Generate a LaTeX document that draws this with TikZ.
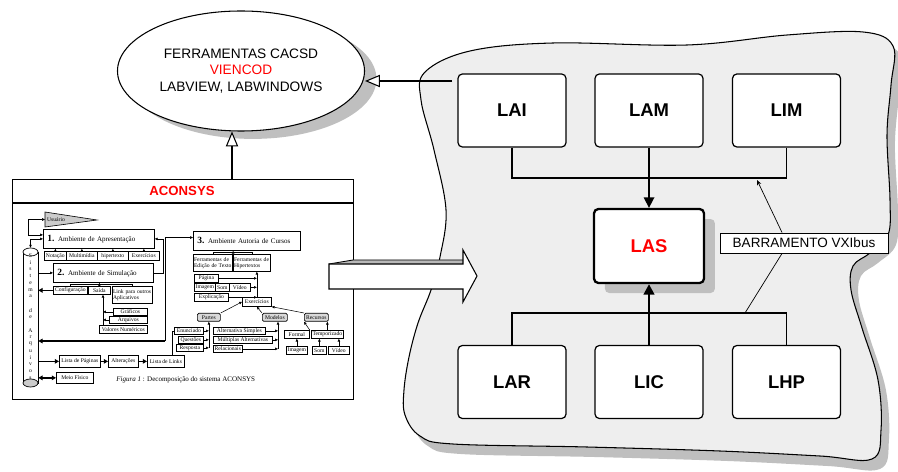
\documentclass[tikz,border=0pt]{standalone}
\usepackage{fontspec}
\setmainfont{Liberation Sans}
\newfontfamily\timesf{Liberation Serif}
\usetikzlibrary{shapes.geometric, arrows.meta, positioning, shadows}

\newlength{\pix}
\setlength{\pix}{0.02cm}

\tikzset{
  lbox/.style={draw, rounded corners=2.5pt, fill=white, line width=0.7pt,
    minimum width=108\pix, minimum height=73\pix,
    font=\fontsize{10.5}{12}\selectfont\bfseries},
  grayshadow/.style={drop shadow={shadow xshift=#1, shadow yshift=-#1, fill=gray!50, opacity=1}},
  bus/.style={line width=0.6pt},
  hollow/.style={line width=0.6pt, -{Triangle[length=8.5pt,width=7pt,fill=white]}},
  ib/.style={draw, fill=white, line width=0.4pt, inner sep=0.4pt, anchor=north west,
    font=\timesf\fontsize{3.2}{3.6}\selectfont},
  gb/.style={ib, fill=gray!30, rounded corners=0.8pt},
  hb/.style={draw, fill=white, line width=0.45pt, anchor=north west, minimum height=19\pix,
    inner xsep=4\pix, inner ysep=0.5pt, align=left, font=\timesf\fontsize{4}{4.6}\selectfont},
  iln/.style={line width=0.3pt},
  iarr/.style={line width=0.3pt, -{Triangle[length=1.6pt,width=1.4pt]}},
  ibi/.style={line width=0.3pt, {Triangle[length=1.6pt,width=1.4pt]}-{Triangle[length=1.6pt,width=1.4pt]}},
  tarr/.style={line width=0.8pt, -{Triangle[length=2.4pt,width=2.6pt]}},
  tbi/.style={line width=0.8pt, {Triangle[length=2.4pt,width=2.6pt]}-{Triangle[length=2.4pt,width=2.6pt]}}
}

\begin{document}
\begin{tikzpicture}[x=0.02cm, y=-0.02cm]
    \useasboundingbox (0,0) rectangle (898,472);

    % cloud holding the labs
    \draw[fill=gray!13, line width=0.6pt,
      drop shadow={shadow xshift=4.5pt, shadow yshift=-5.7pt, fill=gray!50, opacity=1}]
      plot[smooth cycle, tension=0.6] coordinates {
      (425,72) (470,51) (553,43) (687,45) (787,35) (863,32) (893,46) (891,85)
      (887,135) (890,200) (888,235) (870,253) (853,266) (851,290) (862,328)
      (878,380) (881,430) (872,459) (820,456) (720,451) (587,447) (453,444)
      (420,436) (405,415) (404,390) (409,357) (418,323) (431,290) (440,257)
      (446,210) (434,150) (421,100)};

    % CACSD tools
    \node[ellipse, draw, fill=white, line width=0.6pt, minimum width=214\pix, minimum height=120\pix,
      align=center, font=\fontsize{7.8}{9.4}\selectfont,
      drop shadow={shadow xshift=6.8pt, shadow yshift=-4.5pt, fill=gray!50, opacity=1}]
      (ell) at (241,71) {FERRAMENTAS CACSD\\\textcolor{red}{VIENCOD}\\LABVIEW, LABWINDOWS};

    % ACONSYS frame
    \node[draw, fill=white, line width=0.6pt, minimum width=341\pix, minimum height=220\pix,
      inner sep=0, anchor=north west] (acobox) at (12,179) {};
    \draw[line width=0.6pt] (12,203) -- (353,203);
    \node[font=\bfseries\fontsize{7.5}{9}\selectfont, text=red] (aco) at (182,191) {ACONSYS};

    % Usuario
    \draw[fill=gray!40, line width=0.35pt] (45,212) -- (97,220) -- (45,227) -- cycle;
    \node[anchor=west, inner sep=1pt, font=\timesf\fontsize{3.2}{3.6}\selectfont] (usr) at (45,219.5) {Usuário};

    % file system cylinder
    \node[minimum width=15\pix, minimum height=139\pix, inner sep=0] (cyl) at (30.5,317.5) {};
    \draw[fill=white, line width=0.4pt] (23,252) -- (23,383) -- (38,383) -- (38,252);
    \draw[fill=white, line width=0.4pt] (30.5,252) ellipse (7.5 and 4);
    \draw[fill=gray!40, line width=0.4pt] (30.5,383) ellipse (7.5 and 4);
    \foreach \ch [count=\k] in {S,i,s,t,e,m,a,{},d,e,{},A,r,q,u,i,v,o,s}
      \node[inner sep=0, font=\timesf\fontsize{3.2}{3.5}\selectfont] (cy\k) at (30.5,249+\k*6.8) {\ch};

    % environments
    \node[hb, text width=103\pix] (ap1) at (43,229) {{\bfseries\fontsize{5.4}{5.4}\selectfont 1.} Ambiente de Apresentação};
    \node[hb, text width=92\pix] (ap2) at (53,263) {{\bfseries\fontsize{5.4}{5.4}\selectfont 2.} Ambiente de Simulação};
    \node[hb, text width=99\pix] (ap3) at (193,231) {{\bfseries\fontsize{5.4}{5.4}\selectfont 3.} Ambiente Autoria de Cursos};

    \node[ib, minimum width=22\pix, minimum height=9\pix] (nota) at (44,251) {Notação};
    \node[ib, minimum width=31\pix, minimum height=9\pix] (mult) at (66,251) {Multimídia};
    \node[ib, minimum width=31\pix, minimum height=9\pix] (hipt) at (97,251) {hipertexto};
    \node[ib, minimum width=31\pix, minimum height=9\pix] (exer1) at (128,251) {Exercícios};

    \node[ib, minimum width=34\pix, minimum height=8\pix] (conf) at (53,286) {Configuração};
    \node[ib, minimum width=22\pix, minimum height=8\pix] (saida) at (88,286) {Saída};
    \node[ib, text width=39\pix, minimum height=17\pix, align=left] (link) at (112,286) {Link para outros\\Aplicativos};
    \node[ib, minimum width=34\pix, minimum height=7\pix] (graf) at (113,308) {Gráficos};
    \node[ib, minimum width=38\pix, minimum height=7\pix] (arq) at (109,316) {Arquivos};
    \node[ib, minimum width=48\pix, minimum height=8\pix] (valn) at (99,325) {Valores Numéricos};

    \node[ib, text width=38\pix, minimum height=17\pix, align=left] (ftx) at (193,254) {Ferramentas de\\Edição de Texto};
    \node[ib, text width=36\pix, minimum height=17\pix, align=left] (fhp) at (233,254) {Ferramentas de\\Hipertextos};
    \node[ib, minimum width=24\pix, minimum height=8\pix] (pag) at (194,274) {Página};
    \node[ib, minimum width=21\pix, minimum height=8\pix] (img) at (194,283) {Imagem};
    \node[ib, minimum width=14\pix, minimum height=8\pix] (som) at (215,283) {Som};
    \node[ib, minimum width=21\pix, minimum height=8\pix] (vid) at (229,283) {Vídeo};
    \node[ib, minimum width=34\pix, minimum height=8\pix] (expl) at (194,293) {Explicação};
    \node[ib, minimum width=29\pix, minimum height=9\pix] (exer) at (242,297) {Exercícios};

    \node[gb, minimum width=23\pix, minimum height=8\pix] (part) at (197,313) {Partes};
    \node[gb, minimum width=25\pix, minimum height=8\pix] (mod) at (262,313) {Modelos};
    \node[gb, minimum width=24\pix, minimum height=8\pix] (rec) at (304,313) {Recursos};

    \node[ib, minimum width=29\pix, minimum height=7\pix] (enun) at (174,327) {Enunciado};
    \node[ib, minimum width=25\pix, minimum height=7\pix] (ques) at (178,336) {Questões};
    \node[ib, minimum width=27\pix, minimum height=7\pix] (resp) at (176,344) {Resposta};
    \node[ib, minimum width=52\pix, minimum height=7\pix] (alts) at (213,327) {Alternativa Simples};
    \node[ib, minimum width=59\pix, minimum height=7\pix] (mult2) at (213,336) {Múltiplas Alternativas};
    \node[ib, minimum width=29\pix, minimum height=7\pix] (rel) at (213,345) {Relacionais};
    \node[ib, minimum width=25\pix, minimum height=8\pix] (form) at (284,330) {Formal};
    \node[ib, minimum width=32\pix, minimum height=8\pix] (temp) at (311,330) {Temporizado};
    \node[ib, minimum width=21\pix, minimum height=8\pix] (img2) at (286,346) {Imagem};
    \node[ib, minimum width=14\pix, minimum height=8\pix] (som2) at (312,346) {Som};
    \node[ib, minimum width=21\pix, minimum height=8\pix] (vid2) at (328,346) {Vídeo};

    \node[ib, minimum width=41\pix, minimum height=12\pix] (lpag) at (59,355) {Lista de Páginas};
    \node[ib, minimum width=30\pix, minimum height=12\pix] (alt) at (108,355) {Alterações};
    \node[ib, minimum width=37\pix, minimum height=12\pix] (llink) at (147,355) {Lista de Links};
    \node[ib, minimum width=37\pix, minimum height=11\pix] (meio) at (56,372) {Meio Físico};

    \node[anchor=west, inner sep=0, font=\timesf\fontsize{4}{4.6}\selectfont] (cap) at (116,380)
      {\textit{Figura 1} : Decomposição do sistema ACONSYS};

    % links inside the figure
    \draw[ibi] (cyl.north) |- (ap1.west);
    \draw[ibi] (usr.west) -- ++(-17,0) |- ([yshift=2.3pt]ap1.west);
    \foreach \n in {nota,mult,hipt,exer1}
      \draw[iarr] (\n.north) -- (\n.north |- ap1.south);
    \draw[iarr] (cyl.east |- ap2.west) -- (ap2.west);
    \draw[iarr] (ap2.east) -- ++(9,0) |- (ap1.east);

    \coordinate (b2) at ([yshift=1.2pt]saida.north);
    \draw[iln] (conf.north) |- (b2) -| (link.north);
    \draw[iarr] (saida.north) -- (saida.north |- ap2.south);
    \draw[tarr] (conf.west) -- (conf.west -| cyl.east);
    \coordinate (vl) at (103,325);
    \draw[iarr] (vl) -- (vl |- saida.south);
    \draw[iarr] (graf.west) -- (graf.west -| vl);
    \draw[iarr] (arq.west) -- (arq.west -| vl);

    \coordinate (c3) at (165,341);
    \draw[tarr] (c3) -- (c3 -| cyl.east);
    \draw[iarr] (c3) |- ([yshift=1.9pt]ap3.west);
    \draw[iln] ([xshift=3.7pt]llink.north) |- (enun.west);

    \coordinate (b3) at ([yshift=1.1pt]ftx.north east);
    \draw[iln] (ftx.north) |- (b3) -| (fhp.north);
    \draw[iarr] (b3) -- (b3 |- ap3.south);
    \draw[iarr] (exer.north) -- (exer.north |- fhp.south);
    \foreach \n in {pag,vid,expl}
      \draw[iarr] (\n.east) -- (\n.east -| exer.north);

    \draw[iarr] (part.north east) -- (exer.west);
    \draw[iarr] (mod.north west) -- (exer.south);
    \draw[iarr] (rec.north west) -- (exer.south east);

    \draw[iarr] (part.south |- resp.east) -- (part.south);
    \foreach \n in {enun,ques,resp}
      \draw[iarr] (\n.east) -- (\n.east -| part.south);
    \coordinate (vm) at (278,349);
    \draw[iarr] (vm) -- (vm |- mod.south);
    \foreach \n in {alts,mult2,rel}
      \draw[iarr] (\n.east) -- (\n.east -| vm);

    \draw[iarr] (img2.north) -- (form.south);
    \draw[iarr] (som2.north) -- (som2.north |- temp.south);
    \draw[iarr] (vid2.north) -- (vid2.north |- temp.south);
    \draw[iarr] (form.north east) -- (rec.south west);
    \draw[iarr] (temp.north) -- (temp.north |- rec.south);

    \draw[tarr] (cyl.east |- lpag.west) -- (lpag.west);
    \draw[tarr] (lpag.east) -- (alt.west);
    \draw[tarr] (alt.east) -- (llink.west);
    \draw[tbi] (cyl.east |- meio.west) -- (meio.west);

    % links to the CACSD tools
    \coordinate (acotop) at (232,179);
    \draw[hollow] (acotop) -- (acotop |- ell.south);
    \coordinate (vlink) at (452,81);
    \draw[hollow] (vlink) -- (vlink -| ell.east);

    % block arrow
    \fill[gray!55] (329,264) -- (353,260) -- (463,260) -- (463,264) -- cycle;
    \draw[line width=0.5pt] (329,264) -- (353,260) -- (463,260);
    \draw[line width=0.6pt, fill=white] (329,264) -- (463,264) -- (463,250) -- (477,276)
      -- (463,302) -- (463,289) -- (329,289) -- cycle;

    % labs
    \node[lbox] (LAI) at (512,110.5) {LAI};
    \node[lbox] (LAM) at (649,110.5) {LAM};
    \node[lbox] (LIM) at (786.5,110.5) {LIM};
    \node[lbox, line width=1.3pt, text=red, minimum width=110\pix, minimum height=74\pix,
      drop shadow={shadow xshift=6.2pt, shadow yshift=-5.7pt, fill=gray!50, opacity=1}] (LAS) at (649,246) {LAS};
    \node[lbox] (LAR) at (512,382) {LAR};
    \node[lbox] (LIC) at (649,382) {LIC};
    \node[lbox] (LHP) at (786.5,382) {LHP};

    % VXI bus
    \coordinate (topbus) at (649,178);
    \draw[bus] (LAI.south) |- (topbus) -| (LIM.south);
    \draw[line width=0.9pt, -{Triangle[length=6pt,width=6pt]}] (LAM) -- (LAS);
    \coordinate (botbus) at (649,313);
    \draw[bus] (LAR.north) |- (botbus);
    \draw[line width=1pt] (botbus) -| (LHP.north);
    \draw[line width=1.6pt, -{Triangle[length=6pt,width=6pt]}] (LIC) -- (LAS);

    \node[draw, fill=white, line width=0.5pt, minimum width=168\pix, minimum height=20\pix, inner sep=0,
      font=\fontsize{7.7}{9}\selectfont] (vxi) at (804,243) {BARRAMENTO VXIbus};
    \coordinate (busA) at (757,180);
    \coordinate (busB) at (745,313);
    \draw[line width=0.4pt, -{Stealth[length=3pt,width=2.5pt]}] ([xshift=-12.5pt]vxi.north) -- (busA);
    \draw[line width=0.4pt] ([xshift=-12.5pt]vxi.south) -- (busB);
\end{tikzpicture}
\end{document}
